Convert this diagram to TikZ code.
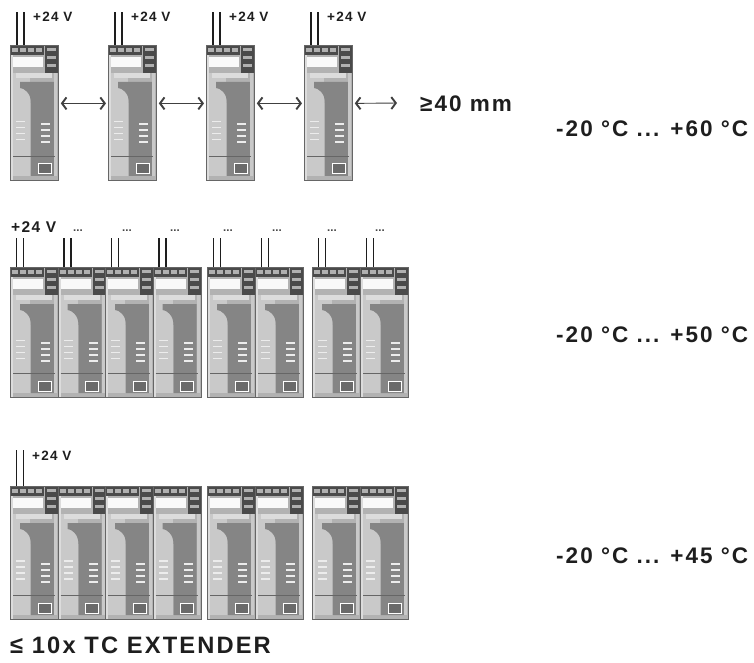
\documentclass[tikz,border=0pt]{standalone}
\usepackage{fontspec}
\setmainfont{Liberation Sans}
\newfontfamily\lblfont[LetterSpace=9]{Liberation Sans}
\usetikzlibrary{arrows.meta}
\definecolor{termc}{HTML}{4A4A4A}
\definecolor{termw}{HTML}{B0B0B0}
\definecolor{bodyc}{HTML}{B2B2B2}
\definecolor{lightc}{HTML}{C9C9C9}
\definecolor{darkc}{HTML}{858585}
\definecolor{stripc}{HTML}{DCDCDC}
\definecolor{edgec}{HTML}{666666}
\definecolor{txtc}{HTML}{1E1E1E}
\tikzset{
  modbox/.style={draw=edgec, line width=0.8pt, minimum width=48pt, inner sep=0pt, fill=none},
  wire/.style={draw=txtc, line width=1.8pt},
  gap/.style={draw=gray!50!black, line width=0.9pt,
    {Straight Barb[length=4.5pt,width=12pt,line width=1.9pt]}-{Straight Barb[length=4.5pt,width=12pt,line width=1.9pt]},
    shorten <=2pt, shorten >=2pt},
  vlbl/.style={font=\lblfont\bfseries\fontsize{13.5}{15}\selectfont, text=txtc, anchor=base west, inner sep=0pt},
  dots/.style={font=\bfseries\fontsize{11.5}{12}\selectfont, text=gray!55!black, anchor=base west, inner sep=0pt},
  big/.style={font=\lblfont\bfseries\fontsize{22.5}{25}\selectfont, text=txtc, anchor=base west, inner sep=0pt}
}
\newcommand{\modul}[4]{%
  \begin{scope}[shift={(#2,#3)}]
    \fill[bodyc] (0,0) rectangle (48,#4);
    \fill[stripc] (0.8,10) rectangle (3,#4);
    \fill[lightc] (3,28) rectangle (20,#4-4);
    \fill[darkc] (10,37) -- (44,37) -- (44,#4-4) -- (21,#4-4) -- (21,58) .. controls (21,48) and (14,43) .. (10,43) -- cycle;
    \fill[lightc] (44,28) rectangle (47,#4-4);
    \fill[stripc] (6,28) rectangle (42,33);
    \fill[termc] (0,0) rectangle (34,10);
    \foreach \i in {0,1,2,3} {\fill[termw] (2+8*\i,3) rectangle ++(6,4);}
    \fill[termc] (35,0) rectangle (48,28);
    \foreach \j in {0,1,2} {\fill[termw] (37,3+8*\j) rectangle ++(9,3);}
    \fill[white!95!gray] (3,12) rectangle (33,22);
    \foreach \j in {0,1,2,3} {\fill[white!85!gray] (6,#4*0.56+\j*6) rectangle ++(9,1.6);
      \fill[white!85!gray] (31,#4*0.58+\j*6) rectangle ++(9,1.6);}
    \draw[edgec, line width=0.5pt] (3,#4-24) -- (45,#4-24);
    \draw[white, line width=1pt, fill=darkc!80!black] (28,#4-16) rectangle (41,#4-6);
    \node[modbox, minimum height=#4pt, anchor=north west] (#1) at (0,0) {};
  \end{scope}}
\newcommand{\wires}[3]{%
  \draw[wire] ([xshift=#3pt]#1.north west) -- ++(0,-#2);
  \draw[wire] ([xshift=#3pt+7pt]#1.north west) -- ++(0,-#2);}
\begin{document}
\begin{tikzpicture}[x=1pt,y=-1pt]
\useasboundingbox (0,0) rectangle (754,663);
\fill[white] (0,0) rectangle (754,663);
% ---- row 1
\modul{a1}{10}{45}{135}
\modul{a2}{108}{45}{135}
\modul{a3}{206}{45}{135}
\modul{a4}{304}{45}{135}
\foreach \m in {a1,a2,a3,a4} {\wires{\m}{33}{7}}
\node[vlbl] (la1) at (33,22) {+24 V};
\node[vlbl] (la2) at (131,22) {+24 V};
\node[vlbl] (la3) at (229,22) {+24 V};
\node[vlbl] (la4) at (327,22) {+24 V};
\coordinate (e1) at (399,103);
\draw[gap] ([yshift=9.5pt]a1.east) -- ([yshift=9.5pt]a2.west);
\draw[gap] ([yshift=9.5pt]a2.east) -- ([yshift=9.5pt]a3.west);
\draw[gap] ([yshift=9.5pt]a3.east) -- ([yshift=9.5pt]a4.west);
\draw[gap] ([yshift=9.5pt]a4.east) -- (e1);
\node[big] (dist) at (420,112) {≥40 mm};
\node[big] (t1) at (556,137) {-20 °C ... +60 °C};
% ---- row 2
\modul{b1}{10}{267}{130}
\modul{b2}{57.5}{267}{130}
\modul{b3}{105}{267}{130}
\modul{b4}{152.5}{267}{130}
\modul{b5}{207}{267}{130}
\modul{b6}{255}{267}{130}
\modul{b7}{312}{267}{130}
\modul{b8}{360}{267}{130}
\foreach \m in {b1,b2,b3,b4,b5,b6,b7,b8} {\wires{\m}{29}{6.5}}
\node[vlbl, font=\lblfont\bfseries\fontsize{15.5}{17}\selectfont] (lb1) at (11,232) {+24 V};
\node[dots] (db2) at (73,231) {...};
\node[dots] (db3) at (122,231) {...};
\node[dots] (db4) at (170,231) {...};
\node[dots] (db5) at (223,231) {...};
\node[dots] (db6) at (272,231) {...};
\node[dots] (db7) at (327,231) {...};
\node[dots] (db8) at (375,231) {...};
\node[big] (t2) at (556,342) {-20 °C ... +50 °C};
% ---- row 3
\modul{c1}{10}{486}{133}
\modul{c2}{57.5}{486}{133}
\modul{c3}{105}{486}{133}
\modul{c4}{152.5}{486}{133}
\modul{c5}{207}{486}{133}
\modul{c6}{255}{486}{133}
\modul{c7}{312}{486}{133}
\modul{c8}{360}{486}{133}
\wires{c1}{36}{6.5}
\node[vlbl] (lc1) at (32,460) {+24 V};
\node[big] (t3) at (556,563) {-20 °C ... +45 °C};
\node[big, font=\lblfont\bfseries\fontsize{23.7}{26}\selectfont] (ext) at (10,653) {≤ 10x TC EXTENDER};
\end{tikzpicture}
\end{document}
